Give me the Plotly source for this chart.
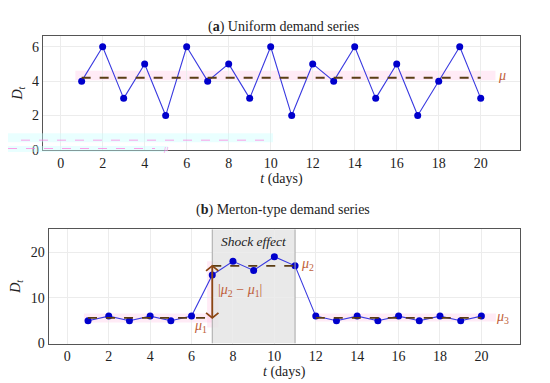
import plotly.graph_objects as go

# ---- data ----
t = list(range(1, 21))
uniform_demand = [4, 6, 3, 5, 2, 6, 4, 5, 3, 6, 2, 5, 4, 6, 3, 5, 2, 4, 6, 3]
merton_demand = [5, 6, 5, 6, 5, 6, 15, 18, 16, 19, 17, 6, 5, 6, 5, 6, 5, 6, 5, 6]
mu_uniform = 4.2
mu1, mu2, mu3 = 5.6, 17.0, 5.6
shock_start, shock_end = 7, 11
x_ticks = list(range(0, 21, 2))
y_ticks_a = [0, 2, 4, 6]
y_ticks_b = [0, 10, 20]

W, H = 550, 383
FONT = "Liberation Serif"
BLUE = "#0000cc"
LINE_BLUE = "#3a3ae0"
DASH = "#5a3d14"
LABEL = "#c0603a"
ARROW = "#8b4513"
PINK = "rgba(255,190,225,0.3)"

def px(x):
    return x / W

def py(y):
    return 1 - y / H

fig = go.Figure()

# Top series
fig.add_trace(go.Scatter(x=t, y=uniform_demand, mode="lines+markers",
                         line=dict(color=LINE_BLUE, width=1.1),
                         marker=dict(color=BLUE, size=7),
                         xaxis="x", yaxis="y", showlegend=False))
fig.add_trace(go.Scatter(x=[t[0], t[-1]], y=[mu_uniform, mu_uniform], mode="lines",
                         line=dict(color=DASH, width=2, dash="dash"),
                         xaxis="x", yaxis="y", showlegend=False))

# Bottom series
fig.add_trace(go.Scatter(x=t, y=merton_demand, mode="lines+markers",
                         line=dict(color=LINE_BLUE, width=1.1),
                         marker=dict(color=BLUE, size=7),
                         xaxis="x2", yaxis="y2", showlegend=False))
for xs, m in [((1, shock_start), mu1), ((shock_start, shock_end), mu2), ((12, 20), mu3)]:
    fig.add_trace(go.Scatter(x=list(xs), y=[m, m], mode="lines",
                             line=dict(color=DASH, width=1.8, dash="dash"),
                             xaxis="x2", yaxis="y2", showlegend=False))

shapes = []
# pink highlight bands
shapes.append(dict(type="rect", xref="x", yref="y", x0=0.7, x1=20.7, y0=4.05, y1=4.6,
                   fillcolor=PINK, line=dict(width=0), layer="below"))
shapes.append(dict(type="rect", xref="x2", yref="y2", x0=0.8, x1=7.0, y0=4.6, y1=6.6,
                   fillcolor=PINK, line=dict(width=0), layer="below"))
shapes.append(dict(type="rect", xref="x2", yref="y2", x0=12.0, x1=20.7, y0=4.8, y1=6.6,
                   fillcolor=PINK, line=dict(width=0), layer="below"))
shapes.append(dict(type="rect", xref="x2", yref="y2", x0=6.75, x1=7.3, y0=3.5, y1=18.0,
                   fillcolor=PINK, line=dict(width=0), layer="below"))
# shock region
shapes.append(dict(type="rect", xref="x2", yref="y2", x0=shock_start, x1=shock_end, y0=0, y1=25,
                   fillcolor="rgba(228,228,228,0.8)", line=dict(width=0), layer="below"))
for xv in (shock_start, shock_end):
    shapes.append(dict(type="line", xref="x2", yref="y2", x0=xv, x1=xv, y0=0, y1=25,
                       line=dict(color="#a8a8a8", width=1)))
# double arrow |mu2 - mu1| with open chevron heads
shapes.append(dict(type="line", xref="x2", yref="y2", x0=shock_start, x1=shock_start, y0=mu1, y1=mu2,
                   line=dict(color=ARROW, width=1.8)))
shapes.append(dict(type="path", xref="x2", yref="y2",
                   path=f"M {shock_start-0.3},{mu2-1.1} L {shock_start},{mu2} L {shock_start+0.3},{mu2-1.1}",
                   line=dict(color=ARROW, width=1.8)))
shapes.append(dict(type="path", xref="x2", yref="y2",
                   path=f"M {shock_start-0.3},{mu1+1.1} L {shock_start},{mu1} L {shock_start+0.3},{mu1+1.1}",
                   line=dict(color=ARROW, width=1.8)))
# faint ghost artefacts of the reference image (lower-left of top panel)
shapes.append(dict(type="rect", xref="paper", yref="paper", x0=px(0), x1=px(265), y0=py(137), y1=py(128),
                   fillcolor="rgba(200,255,255,0.4)", line=dict(width=0)))
shapes.append(dict(type="rect", xref="paper", yref="paper", x0=px(0), x1=px(160), y0=py(147), y1=py(141),
                   fillcolor="rgba(200,255,255,0.4)", line=dict(width=0)))
shapes.append(dict(type="line", xref="paper", yref="paper", x0=px(13), x1=px(263), y0=py(135), y1=py(135),
                   line=dict(color="rgba(255,120,220,0.7)", width=1, dash="dash")))
shapes.append(dict(type="line", xref="paper", yref="paper", x0=px(0), x1=px(147), y0=py(143.5), y1=py(143.5),
                   line=dict(color="rgba(255,120,220,0.7)", width=1, dash="dash")))

TF = dict(size=14, family=FONT, color="#222")
annotations = [
    dict(text="(<b>a</b>) Uniform demand series", x=0.5, y=py(9), xref="paper", yref="paper",
         showarrow=False, font=TF),
    dict(text="(<b>b</b>) Merton-type demand series", x=0.5, y=py(206), xref="paper", yref="paper",
         showarrow=False, font=TF),
    dict(text="<i>μ</i>", x=20.75, y=mu_uniform + 0.1, xref="x", yref="y", showarrow=False,
         xanchor="left", font=dict(size=14, family=FONT, color=LABEL)),
    dict(text="<i>Shock effect</i>", x=9.0, y=22.3, xref="x2", yref="y2", showarrow=False,
         font=dict(size=13.5, family=FONT, color="#222")),
    dict(text="<i>μ</i><sub>2</sub>", x=11.2, y=mu2 + 0.2, xref="x2", yref="y2", showarrow=False,
         xanchor="left", font=dict(size=14, family=FONT, color=LABEL)),
    dict(text="<i>μ</i><sub>1</sub>", x=6.45, y=3.7, xref="x2", yref="y2", showarrow=False,
         font=dict(size=14, family=FONT, color=LABEL)),
    dict(text="<i>μ</i><sub>3</sub>", x=20.6, y=mu3 + 0.2, xref="x2", yref="y2", showarrow=False,
         xanchor="left", font=dict(size=14, family=FONT, color=LABEL)),
    dict(text="|<i>μ</i><sub>2</sub> − <i>μ</i><sub>1</sub>|", x=7.2, y=11.6, xref="x2", yref="y2",
         showarrow=False, xanchor="left", font=dict(size=14, family=FONT, color=LABEL)),
    dict(text="<i>μ</i>", x=px(153), y=py(143), xref="paper", yref="paper", showarrow=False,
         font=dict(size=9, family=FONT, color="rgba(255,120,220,0.7)")),
]

axis_common = dict(showgrid=True, gridcolor="#ececec", gridwidth=1, zeroline=False,
                   showline=True, linecolor="#555", linewidth=1.2, mirror=True,
                   ticks="", tickfont=dict(size=14, family=FONT, color="#222"))

fig.update_layout(
    width=W, height=H,
    margin=dict(l=0, r=0, t=0, b=0),
    paper_bgcolor="white", plot_bgcolor="white",
    shapes=shapes, annotations=annotations,
    xaxis=dict(domain=[px(35), px(512)], range=[-0.84, 21.87], tickvals=x_ticks, anchor="y",
               title=dict(text="<i>t</i> (days)", font=TF, standoff=2),
               **axis_common),
    yaxis=dict(domain=[py(145), py(29)], range=[0, 6.6], tickvals=y_ticks_a, anchor="x",
               title=dict(text="<i>D<sub>t</sub></i>", font=TF, standoff=6),
               **axis_common),
    xaxis2=dict(domain=[px(40.7), px(511.7)], range=[-0.9, 21.85], tickvals=x_ticks, anchor="y2",
                title=dict(text="<i>t</i> (days)", font=TF, standoff=2),
                **axis_common),
    yaxis2=dict(domain=[py(342.7), py(226)], range=[0, 25], tickvals=y_ticks_b, anchor="x2",
                title=dict(text="<i>D<sub>t</sub></i>", font=TF, standoff=6),
                **axis_common),
)

fig.write_html("out.html")
